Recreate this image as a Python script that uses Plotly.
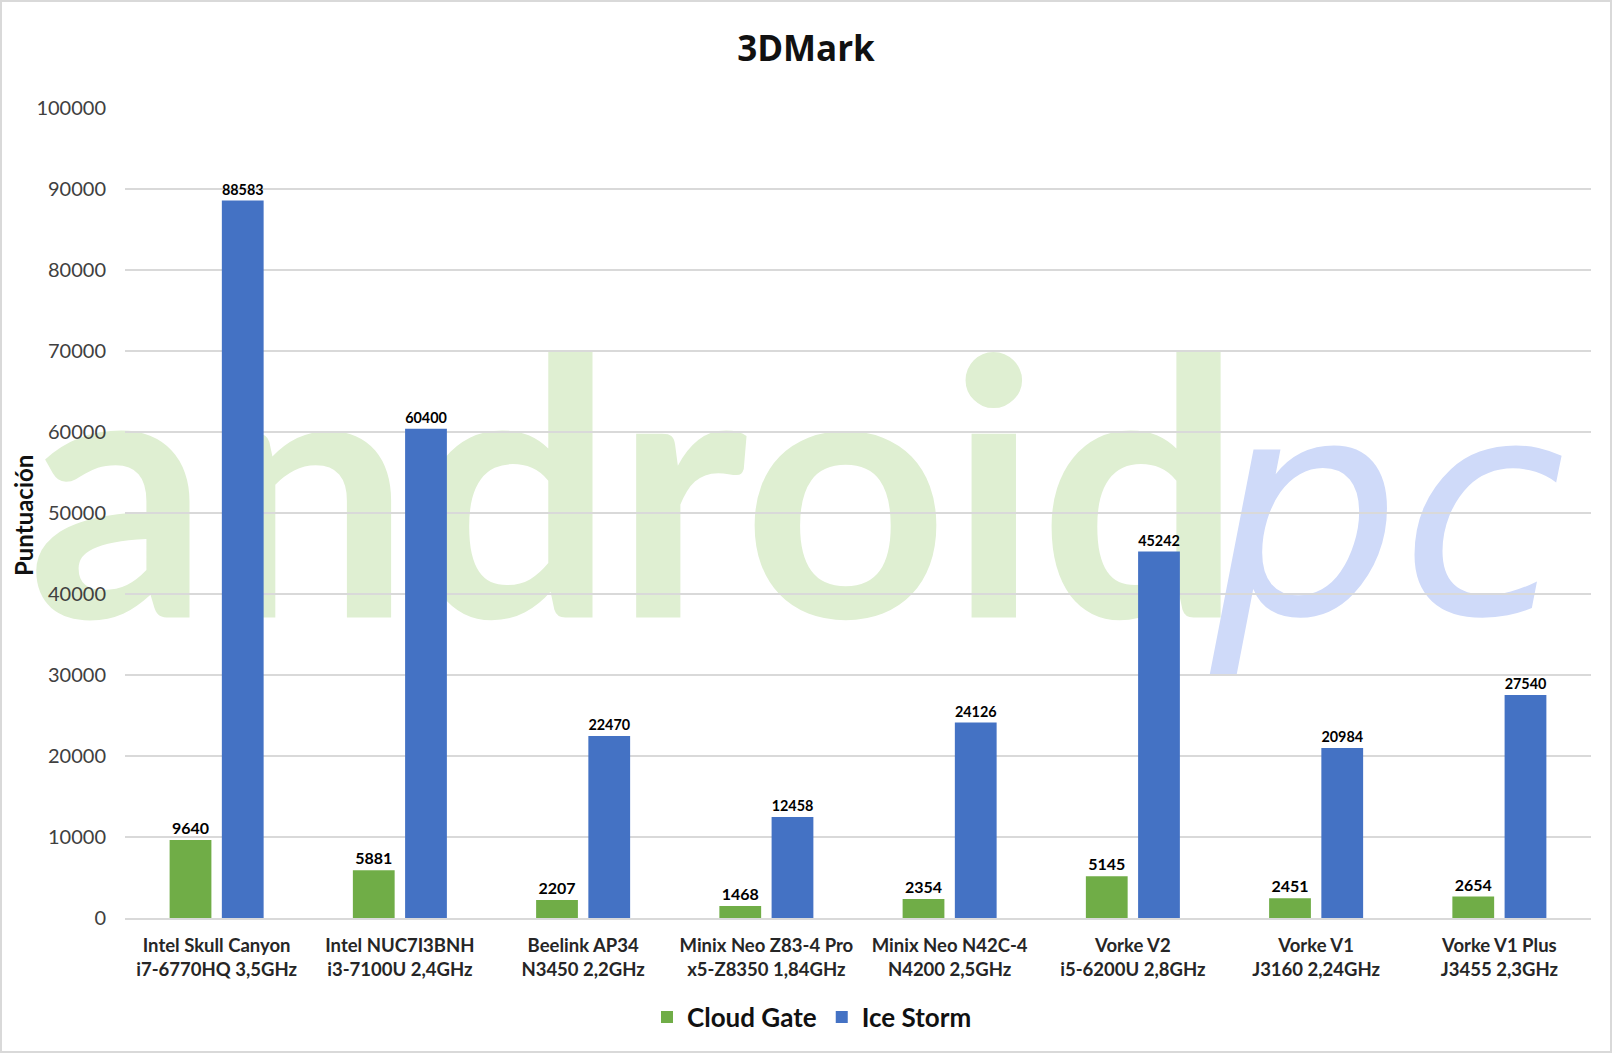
import plotly.graph_objects as go

# ---------------- data ----------------
devices = ["Intel Skull Canyon", "Intel NUC7I3BNH", "Beelink AP34", "Minix Neo Z83-4 Pro",
           "Minix Neo N42C-4", "Vorke V2", "Vorke V1", "Vorke V1 Plus"]
cpus = ["i7-6770HQ 3,5GHz", "i3-7100U 2,4GHz", "N3450 2,2GHz", "x5-Z8350 1,84GHz",
        "N4200 2,5GHz", "i5-6200U 2,8GHz", "J3160 2,24GHz", "J3455 2,3GHz"]
cloud_gate = [9640, 5881, 2207, 1468, 2354, 5145, 2451, 2654]
ice_storm = [88583, 60400, 22470, 12458, 24126, 45242, 20984, 27540]
y_ticks = [0, 10000, 20000, 30000, 40000, 50000, 60000, 70000, 80000, 90000, 100000]

categories = [f"{d}<br>{c}" for d, c in zip(devices, cpus)]

W, H = 1612, 1053
ML, MR, MT, MB = 125, 21, 108, 135
PW, PH = W - ML - MR, H - MT - MB

def px_x(px):
    return (px - ML) / PW

def px_y(py):
    return (H - MB - py) / PH

LABEL_FONT = dict(family="Lato", size=16, color="#000000", weight="bold")

fig = go.Figure()
fig.add_trace(go.Bar(
    name="Cloud Gate", x=categories, y=cloud_gate,
    marker=dict(color="#70ad47", line=dict(width=0)),
    text=[str(v) for v in cloud_gate], textposition="outside",
    textfont=LABEL_FONT, cliponaxis=False,
))
fig.add_trace(go.Bar(
    name="Ice Storm", x=categories, y=ice_storm,
    marker=dict(color="#4472c4", line=dict(width=0)),
    text=[str(v) for v in ice_storm], textposition="outside",
    textfont=LABEL_FONT, cliponaxis=False,
))

shapes = [
    # outer border
    dict(type="rect", xref="paper", yref="paper",
         x0=px_x(1), x1=px_x(W - 1), y0=px_y(H - 1), y1=px_y(1),
         line=dict(color="#d9d9d9", width=2), fillcolor="rgba(0,0,0,0)", layer="below"),
    # watermark "android"
    dict(type="rect", xref="paper", yref="paper",
         x0=px_x(33), x1=px_x(1237), y0=px_y(474), y1=px_y(474),
         line=dict(width=0), fillcolor="rgba(0,0,0,0)", layer="below",
         label=dict(text="android", textposition="middle center",
                    font=dict(family="Lato", size=358, color="#dfefd2", weight="bold"))),
    # watermark "pc"
    dict(type="rect", xref="paper", yref="paper",
         x0=px_x(1198), x1=px_x(1578), y0=px_y(488), y1=px_y(488),
         line=dict(width=0), fillcolor="rgba(0,0,0,0)", layer="below",
         label=dict(text="pc", textposition="middle center",
                    font=dict(family="DejaVu Sans", size=300, color="#cfdaf9",
                              style="italic", weight=400))),
]

fig.update_layout(
    width=W, height=H,
    margin=dict(l=ML, r=MR, t=MT, b=MB, pad=0),
    paper_bgcolor="white", plot_bgcolor="rgba(0,0,0,0)",
    barmode="group", bargap=0.43, bargroupgap=0.2,
    title=dict(text="<b>3DMark</b>", x=0.5, xref="container", xanchor="center",
               y=1 - 49 / H, yref="container", yanchor="middle",
               font=dict(family="Open Sans", size=35, color="#111111")),
    font=dict(family="Lato", color="#595959"),
    showlegend=True,
    legend=dict(orientation="h", x=px_x(812), xanchor="center", y=px_y(1017), yanchor="middle",
                font=dict(family="Lato", size=26, color="#111111", weight="bold"),
                traceorder="normal", itemwidth=30,
                bgcolor="rgba(0,0,0,0)"),
    shapes=shapes,
    annotations=[
        dict(text="<b>Puntuación</b>", xref="paper", yref="paper",
             x=px_x(23), y=px_y(516), xanchor="center", yanchor="middle",
             textangle=-90, showarrow=False,
             font=dict(family="Lato", size=24, color="#111111")),
    ],
)

fig.update_yaxes(
    range=[0, 100000], tickvals=y_ticks, ticktext=[str(v) for v in y_ticks],
    showgrid=True, gridcolor="#d9d9d9", gridwidth=1.5,
    zeroline=False, showline=False, ticks="",
    tickfont=dict(family="Lato", size=20, color="#404040"),
    ticklabelstandoff=18,
)
fig.update_xaxes(
    showgrid=False, showline=True, linecolor="#d9d9d9", linewidth=2,
    ticks="", tickfont=dict(family="Lato", size=18.5, color="#262626", weight="bold"),
    ticklabelstandoff=10,
)

fig.write_html("out.html", config={"displayModeBar": False},
               post_script="document.body.style.margin='0';document.body.style.overflow='hidden';")
